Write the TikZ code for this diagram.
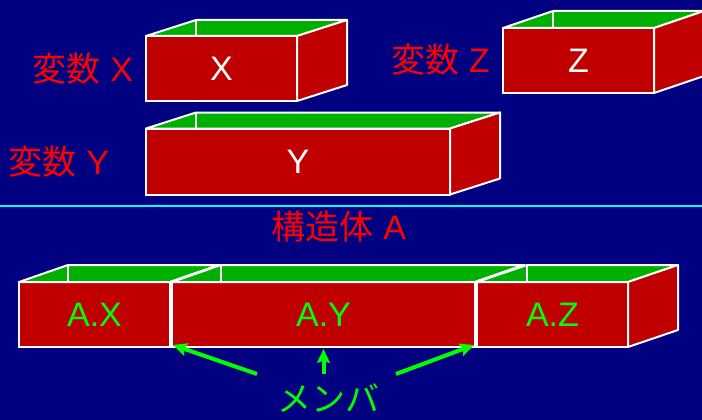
\documentclass[tikz,border=0pt]{standalone}
\usepackage{fontspec}
\setmainfont{Liberation Sans}
\newfontfamily\jp{Noto Sans CJK JP}
\usetikzlibrary{arrows.meta}
\definecolor{navy}{RGB}{0,0,128}
\definecolor{boxred}{RGB}{192,0,0}
\definecolor{boxgreen}{RGB}{0,176,0}
\definecolor{lblred}{RGB}{255,0,0}
\definecolor{brightgreen}{RGB}{0,255,0}
\definecolor{sepcyan}{RGB}{0,255,255}
\tikzset{
  front/.style={draw=white, fill=boxred, line width=2pt, inner sep=0pt, outer sep=0pt,
    minimum height=65pt, font=\fontsize{34}{40}\selectfont},
  topface/.style={draw=white, fill=boxgreen, line width=2pt, line join=round},
  sideface/.style={draw=white, fill=boxred, line width=2pt, line join=round},
  backedge/.style={draw=white, line width=2pt},
  lbl/.style={text=lblred, inner sep=0pt, font=\fontsize{34}{40}\selectfont},
  memarrow/.style={draw=brightgreen, line width=4pt, -{Stealth[length=14pt,width=13pt,inset=2.5pt]}},
}
\newcommand{\boxfaces}[3]{%
  \path[topface] (#1.north west) -- ++(#2,#3) -- ([shift={(#2,#3)}]#1.north east) -- (#1.north east) -- cycle;
  \path[sideface] (#1.north east) -- ++(#2,#3) -- ([shift={(#2,#3)}]#1.south east) -- (#1.south east) -- cycle;
  \path[backedge] ([shift={(#2,#3)}]#1.north west) -- ([shift={(#2,0)}]#1.north west);
}
\begin{document}
\begin{tikzpicture}[x=1pt, y=-1pt]
\useasboundingbox (0,0) rectangle (702,420);
\fill[navy] (0,0) rectangle (702,420);

% upper variables
\node[front, minimum width=151pt, text=white] (bx) at (221.5,68.5) {X};
\boxfaces{bx}{50}{-16}
\node[front, minimum width=151pt, text=white] (bz) at (578.5,60.5) {Z};
\boxfaces{bz}{50}{-17}
\node[front, minimum width=304pt, minimum height=66pt, text=white] (by) at (298,161.5) {Y};
\boxfaces{by}{50}{-16}

\node[lbl] (lx) at (83,69) {{\jp 変数} X};
\node[lbl] (lz) at (440.5,59.5) {{\jp 変数} Z};
\node[lbl] (ly) at (59,162) {{\jp 変数} Y};

% separator
\coordinate (sepL) at (0,206);
\coordinate (sepR) at (702,206);
\draw[sepcyan, line width=2.5pt] (sepL) -- (sepR);

\node[lbl] (la) at (339,227) {{\jp 構造体} A};

% structure members
\node[front, minimum width=151pt, text=brightgreen] (ax) at (94.5,314.5) {A.X};
\boxfaces{ax}{49}{-17}
\node[front, minimum width=303pt, text=brightgreen] (ay) at (323.5,314.5) {A.Y};
\boxfaces{ay}{49}{-17}
\node[front, minimum width=151pt, text=brightgreen] (az) at (552.5,314.5) {A.Z};
\boxfaces{az}{50}{-17}

% members label and arrows
\node[inner sep=0pt, text=brightgreen, font=\jp\fontsize{34}{40}\selectfont] (mem) at (328,398) {メンバ};
\coordinate (t1) at (257,374);
\coordinate (t2) at (323.5,374);
\coordinate (t3) at (396,374);
\draw[memarrow] (t1) -- ([shift={(1,-2)}]ay.south west);
\draw[memarrow] (t2) -- ([shift={(0,2)}]ay.south);
\draw[memarrow] (t3) -- ([shift={(-1,-2)}]ay.south east);
\end{tikzpicture}
\end{document}
